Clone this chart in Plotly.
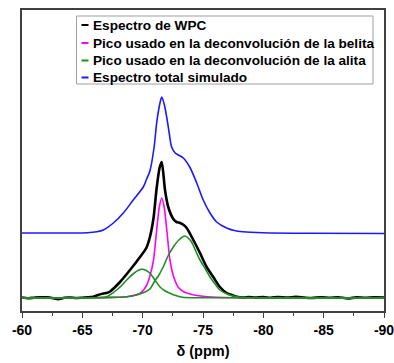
import plotly.graph_objects as go

# ---- data (ppm, intensity a.u.) ----
wpc_x = [-60, -60.5, -61, -61.5, -62, -62.5, -63, -63.5, -64, -64.5, -65, -65.5, -65.9, -66.3, -66.74, -67.0, -67.3,
         -68.12, -68.95, -69.78, -70.3, -70.6, -70.9, -71.16, -71.4, -71.58, -71.85, -72.12, -72.54, -72.8, -73.1,
         -73.4, -73.65, -74.2, -74.75, -75.3, -75.85, -76.4, -76.96, -77.5, -77.8, -78.3, -78.8, -79.3, -80, -80.6,
         -81.2, -82, -82.7, -83.4, -84, -84.8, -85.5, -86.2, -87, -87.7, -88.4, -89.2, -90]
wpc_y = [0.5, -0.3, 0.3, 0.8, 0.6, 0.0, -1.2, 0.2, 0.4, 0.0, 0.3, 0.6, 1.2, 3.0, 4.5, 5.0, 6.5,
         16, 28, 41, 50, 61, 80, 110, 130, 136, 108, 91, 79, 76, 75,
         73, 70, 58, 45, 31, 21, 11, 5, 2.5, 1.3, 0.5, 1.0, 0.4, 0.9, 0.2,
         1.0, 0.5, 1.1, 0.4, 0.0, 0.8, 0.3, 0.7, -0.4, 0.6, 0.3, 0.7, 0.5]

belita_x = [-60, -66, -67.5, -68.7, -69.8, -70.3, -70.6, -70.9, -71.16, -71.38, -71.58, -71.78, -72.0, -72.26, -72.6,
            -73.0, -73.4, -74.0, -74.8, -76.1, -78, -90]
belita_y = [0, 0.2, 0.6, 1.3, 4.7, 12, 22, 38, 68, 91, 100, 91, 68, 38, 20, 10, 6.3, 3.8, 2.0, 0.7, 0.3, 0]

alita1_x = [-60, -65, -66.5, -67.0, -67.4, -67.85, -68.3, -68.68, -69.3, -69.9, -70.3, -70.6, -71.02, -71.44, -71.8,
            -72.26, -72.8, -73.3, -75, -90]
alita1_y = [0, 0.1, 0.5, 1.3, 4, 8, 13, 18, 25, 28.7, 27.5, 24.7, 18, 11, 7.5, 4.7, 2.2, 0.7, 0.2, 0]

alita2_x = [-60, -66, -67.5, -68.7, -69.5, -70.1, -70.6, -71.0, -71.3, -71.7, -72.1, -72.54, -73.0, -73.5, -74.0,
            -74.4, -74.75, -75.2, -75.58, -76.0, -76.4, -77.1, -77.8, -79, -90]
alita2_y = [0, 0.2, 0.6, 1.3, 3, 5.5, 9, 17, 22, 31, 42, 51, 58, 62, 57, 47, 38, 29, 21, 14, 8, 3.5, 1.3, 0.3, 0]

total_x = [-60, -64, -65.4, -66.2, -66.74, -67.57, -68.4, -69.22, -70.05, -70.33, -70.6, -70.95, -71.16, -71.4,
           -71.58, -71.8, -71.99, -72.2, -72.4, -72.7, -72.95, -73.37, -73.9, -74.48, -75.02, -75.58, -76.13,
           -76.96, -77.6, -78.3, -80, -84, -90]
total_y = [0, 0, 0.3, 1.3, 3, 10, 20, 33, 46, 54, 62, 86, 110, 128, 136, 128, 116, 100, 86, 80, 78, 75, 66, 50,
           33, 20, 11, 5, 2.5, 1.3, 0.3, -0.3, -0.5]
total_offset = 65

names = ["Espectro de WPC",
         "Pico usado en la deconvolución de la belita",
         "Pico usado en la deconvolución de la alita",
         "Espectro total simulado"]
colors = ["#000000", "#FF00FF", "#1F8F1F", "#1A1AFF"]

x_ticks = [-60, -65, -70, -75, -80, -85, -90]

fig = go.Figure()
line_kw = dict(mode="lines", line_shape="spline", showlegend=False, hoverinfo="skip")
fig.add_trace(go.Scatter(x=total_x, y=[v + total_offset for v in total_y], name=names[3],
                         line=dict(color=colors[3], width=1.6, smoothing=0.8), **line_kw))
fig.add_trace(go.Scatter(x=wpc_x, y=wpc_y, name=names[0],
                         line=dict(color=colors[0], width=2.6, smoothing=0.7), **line_kw))
fig.add_trace(go.Scatter(x=belita_x, y=belita_y, name=names[1],
                         line=dict(color=colors[1], width=1.6, smoothing=0.7), **line_kw))
fig.add_trace(go.Scatter(x=alita1_x, y=alita1_y, name=names[2],
                         line=dict(color=colors[2], width=1.6, smoothing=0.8), **line_kw))
fig.add_trace(go.Scatter(x=alita2_x, y=alita2_y, name=names[2],
                         line=dict(color=colors[2], width=1.6, smoothing=0.8), **line_kw))

W, H = 394, 363
L, R, T, B = 22, 10, 10, 52
pw, ph = W - L - R, H - T - B


def px(xp):
    return (xp - L) / pw


def py(yp):
    return (H - B - yp) / ph


FONT = "Liberation Sans, Arial"
shapes = [dict(type="rect", xref="paper", yref="paper", x0=px(76.5), x1=px(373), y0=py(16), y1=py(84),
               line=dict(color="#A0A0A0", width=1), fillcolor="white", layer="above")]
annotations = []
rows = [25, 43, 60.5, 77.5]
for name, col, yr in zip(names, colors, rows):
    shapes.append(dict(type="line", xref="paper", yref="paper", x0=px(81.5), x1=px(88.5), y0=py(yr), y1=py(yr),
                       line=dict(color=col, width=2)))
    annotations.append(dict(xref="paper", yref="paper", x=px(90.5), y=py(yr), xanchor="left", yanchor="middle",
                            text="<b>" + name + "</b>", showarrow=False,
                            font=dict(family=FONT, size=13.6, color="black")))

fig.update_layout(
    width=W, height=H, margin=dict(l=L, r=R, t=T, b=B, autoexpand=False),
    paper_bgcolor="white", plot_bgcolor="white",
    shapes=shapes, annotations=annotations,
    xaxis=dict(range=[-60, -90], tickvals=x_ticks, ticktext=["<b>" + str(v) + "</b>" for v in x_ticks],
               automargin=False, ticklabeloverflow="allow",
               ticks="outside", ticklen=5, tickwidth=1.2, tickcolor="#404040",
               minor=dict(dtick=2.5, tick0=-60, ticks="outside", ticklen=3, tickwidth=1, tickcolor="#404040"),
               showline=True, linecolor="#404040", linewidth=1.6, mirror=True, showgrid=False, zeroline=False,
               tickfont=dict(family=FONT, size=14, color="black"),
               title=dict(text="<b>δ (ppm)</b>", font=dict(family=FONT, size=14.5, color="black"),
                          standoff=9)),
    yaxis=dict(range=[-13, 288], showticklabels=False, ticks="", showgrid=False, zeroline=False,
               automargin=False,
               showline=True, linecolor="#404040", linewidth=1.6, mirror=True),
)

fig.write_html("out.html")
